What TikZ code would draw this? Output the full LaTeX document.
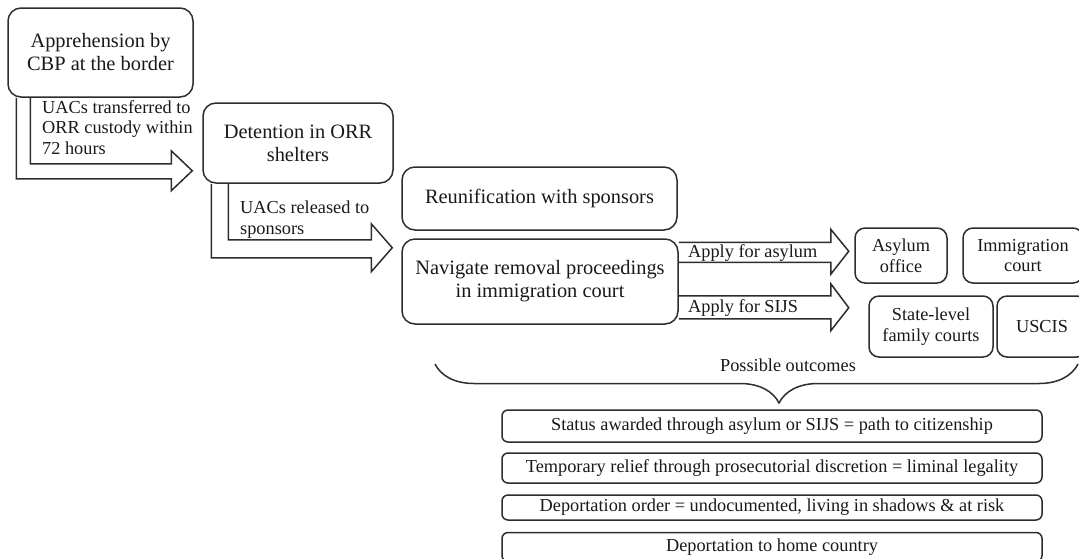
\documentclass[tikz,border=0pt]{standalone}
\usepackage{fontspec}
\setmainfont{Liberation Serif}
\usepackage{tikz}
\usetikzlibrary{decorations.pathreplacing,calc}
\definecolor{inkgray}{RGB}{45, 45, 45}
\definecolor{textblack}{RGB}{25, 25, 25}

\begin{document}
\begin{tikzpicture}[x=1pt, y=-1pt,
    every node/.style={font=\fontsize{18.3}{20.5}\selectfont, text=textblack},
    bigbox/.style={draw=inkgray, line width=1.5pt, rounded corners=13pt, align=center, inner sep=0pt, font=\fontsize{20.4}{23}\selectfont},
    smallbox/.style={draw=inkgray, line width=1.5pt, rounded corners=10pt, align=center, inner sep=0pt},
    outbox/.style={draw=inkgray, line width=1.5pt, rounded corners=6pt, inner sep=0pt, minimum width=540pt},
    blockarrow/.style={draw=inkgray, line width=1.5pt, line join=miter}]
    \useasboundingbox (0,0) rectangle (1079,558);
    \clip (0,0) rectangle (1079,558);

    % Apprehension and detention
    \node[bigbox, minimum width=185pt, minimum height=89pt] (apprehend) at (100.5,52.5) {Apprehension by\\CBP at the border};
    \node[bigbox, minimum width=190pt, minimum height=80pt] (detention) at (298,143) {Detention in ORR\\shelters};
    \draw[blockarrow] ($(apprehend.south west)+(23,0)$) -- ++(0,66) -- ++(141,0) -- ++(0,-13) -- ++(21,20) -- ++(-21,20) -- ++(0,-12) -- ++(-155,0) -- ++(0,-81);
    \node[anchor=north west, align=left, inner sep=0pt] (transferlbl) at (42,100) {UACs transferred to\\ORR custody within\\72 hours};

    % Release to sponsors
    \node[bigbox, minimum width=275pt, minimum height=63pt] (reunify) at (539.5,198.5) {Reunification with sponsors};
    \node[bigbox, minimum width=276pt, minimum height=85pt] (navigate) at (540,281.5) {Navigate removal proceedings\\in immigration court};
    \draw[blockarrow] ($(detention.south west)+(26,0)$) -- ++(0,56) -- ++(143,0) -- ++(0,-16) -- ++(21,24) -- ++(-21,24) -- ++(0,-14) -- ++(-160,0) -- ++(0,-74);
    \node[anchor=north west, align=left, inner sep=0pt] (releaselbl) at (240,201) {UACs released to\\sponsors};

    % Applications
    \node[smallbox, minimum width=92pt, minimum height=55pt] (asylumoff) at (901,255.5) {Asylum\\office};
    \node[smallbox, minimum width=120pt, minimum height=55pt] (immcourt) at (1023,255.5) {Immigration\\court};
    \node[smallbox, minimum width=124pt, minimum height=61pt] (familyct) at (931,326.5) {State-level\\family courts};
    \node[smallbox, minimum width=90pt, minimum height=61pt] (uscis) at (1042,326.5) {USCIS};
    \draw[blockarrow] ($(navigate.north east)+(0,4)$) -- ++(152,0) -- ++(0,-13) -- ++(18,22) -- ++(-18,23) -- ++(0,-12) -- ++(-152,0);
    \node[anchor=west, inner sep=0pt] (asylumlbl) at (688,253) {Apply for asylum};
    \draw[blockarrow] ($(navigate.south east)+(0,-29)$) -- ++(152,0) -- ++(0,-12) -- ++(18,24) -- ++(-18,23) -- ++(0,-12) -- ++(-152,0);
    \node[anchor=west, inner sep=0pt] (sijslbl) at (688,308) {Apply for SIJS};

    % Outcomes
    \node (possible) at (788,365) {Possible outcomes};
    \coordinate (braceleft) at (435,364);
    \coordinate (braceright) at (1078,364);
    \draw[inkgray, line width=1.5pt, decorate, decoration={brace, mirror, amplitude=39pt, aspect=0.535}] (braceleft) -- (braceright);
    \node[outbox, minimum height=32pt] (outstatus) at (772,426) {Status awarded through asylum or SIJS = path to citizenship};
    \node[outbox, minimum height=30pt] (outrelief) at (772,468) {Temporary relief through prosecutorial discretion = liminal legality};
    \node[outbox, minimum height=25pt] (outorder) at (772,507.5) {Deportation order = undocumented, living in shadows \& at risk};
    \node[outbox, minimum height=29pt] (outdeport) at (772,547) {Deportation to home country};
\end{tikzpicture}
\end{document}
